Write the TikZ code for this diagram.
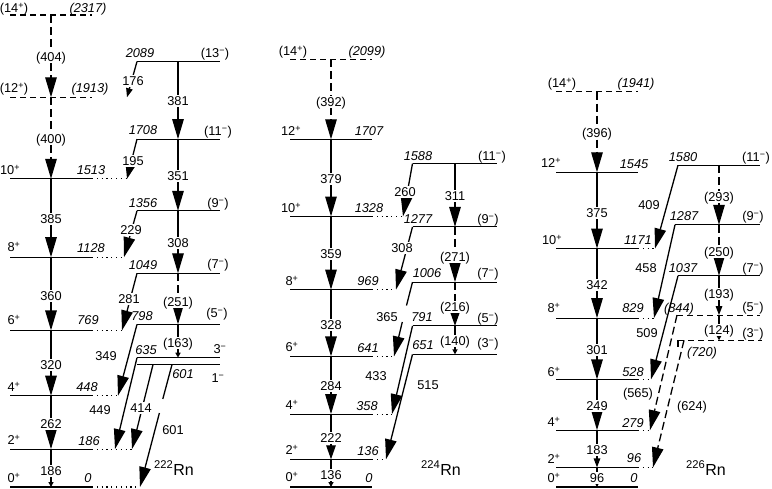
\documentclass[tikz,border=0pt]{standalone}
\usepackage{fontspec}
\setmainfont{Liberation Sans}
\usetikzlibrary{arrows.meta}
\newcommand\spl{\textsuperscript{+}}
\newcommand\smn{\textsuperscript{\char"2212}}
\begin{document}
\begin{tikzpicture}[x=1pt,y=-1pt,
  lvl/.style={line width=1.1pt},
  lvld/.style={line width=1.1pt,dash pattern=on 6pt off 4pt},
  dotx/.style={line width=1.2pt,dash pattern=on 1.2pt off 3.6pt},
  tr/.style={line width=1.3pt},
  trd/.style={line width=1.3pt,dash pattern=on 8pt off 4pt},
  ahbig/.style={-{Triangle[length=20pt,width=11.5pt]}},
  ahmed/.style={-{Triangle[length=14pt,width=9.5pt]}},
  ahsml/.style={-{Triangle[length=9pt,width=6.5pt]}},
  ahtiny/.style={-{Triangle[length=5pt,width=5pt]}},
  lab/.style={font=\fontsize{12.8}{14}\selectfont, inner sep=0.5pt, text height=9pt, text depth=0pt},
  en/.style={lab, font=\fontsize{12.8}{14}\selectfont\itshape},
  onl/.style={lab, fill=white, inner sep=1.2pt},
  nuc/.style={font=\fontsize{16}{18}\selectfont, inner sep=0pt}
]
\useasboundingbox (0,0) rectangle (772,488);

% ================= 222Rn =================
\coordinate (A0) at (51,487);   \coordinate (A2) at (51,449.1);
\coordinate (A4) at (51,395.7); \coordinate (A6) at (51,330.4);
\coordinate (A8) at (51,257.2); \coordinate (A10) at (51,178.8);
\coordinate (A12) at (51,97.3); \coordinate (A14) at (51,15);
\coordinate (B13) at (178,61.5); \coordinate (B11) at (178,139.1);
\coordinate (B9) at (178,210.8); \coordinate (B7) at (178,273.3);
\coordinate (B5) at (178,324.4); \coordinate (B3) at (178,357.7);
\coordinate (B13L) at (137,61.5); \coordinate (B11L) at (137,139.1);
\coordinate (B9L) at (137,210.8); \coordinate (B7L) at (137,273.3);
\coordinate (B5L) at (137,324.4); \coordinate (B3L) at (137,357.7);
\coordinate (B1a) at (153,364.6); \coordinate (B1b) at (172,364.6);
\coordinate (A12t) at (127,97.3); \coordinate (A10t) at (127,178.8);
\coordinate (A8t) at (124,257.2); \coordinate (A6t) at (122,330.4);
\coordinate (A4t) at (118,395.7); \coordinate (A2t) at (115,449.1);
\coordinate (A2u) at (132,449.1); \coordinate (A0t) at (140,487);
\coordinate (G1) at (162.8,399); \coordinate (G2) at (159.4,413);

\draw[lvld] (10,15) -- (92,15);
\draw[lvld] (10,97.3) -- (92,97.3);
\draw[lvl] (10,178.8) -- (92,178.8); \draw[dotx] (92,178.8) -- (A10t);
\draw[lvl] (10,257.2) -- (92,257.2); \draw[dotx] (92,257.2) -- (A8t);
\draw[lvl] (10,330.4) -- (92,330.4); \draw[dotx] (92,330.4) -- (A6t);
\draw[lvl] (10,395.7) -- (92,395.7); \draw[dotx] (92,395.7) -- (A4t);
\draw[lvl] (10,449.1) -- (92,449.1); \draw[dotx] (92,449.1) -- (A2u);
\draw[lvl] (10,487) -- (92,487);     \draw[dotx] (92,487) -- (A0t);
\draw[lvl] (B13L) -- (220,61.5);
\draw[lvl] (B11L) -- (220,139.1);
\draw[lvl] (B9L) -- (220,210.8);
\draw[lvl] (B7L) -- (220,273.3);
\draw[lvl] (B5L) -- (220,324.4);
\draw[lvl] (B3L) -- (220,357.7);
\draw[lvl] (137,364.6) -- (220,364.6);

\draw[trd,ahbig] (A14) -- (A12);
\draw[trd,ahbig] (A12) -- (A10);
\draw[tr,ahbig] (A10) -- (A8);
\draw[tr,ahbig] (A8) -- (A6);
\draw[tr,ahbig] (A6) -- (A4);
\draw[tr,ahbig] (A4) -- (A2);
\draw[tr,ahtiny] (A2) -- (A0);
\draw[tr,ahbig] (B13) -- (B11);
\draw[tr,ahbig] (B11) -- (B9);
\draw[tr,ahbig] (B9) -- (B7);
\draw[trd,ahbig] (B7) -- (B5);
\draw[tr,ahtiny] (B5) -- (B3);
\draw[tr,ahsml] (B13L) -- (A12t);
\draw[tr,ahmed] (B11L) -- (A10t);
\draw[tr,ahbig] (B9L) -- (A8t);
\draw[tr,ahbig] (B7L) -- (A6t);
\draw[tr,ahbig] (B5L) -- (A4t);
\draw[tr,ahbig] (B3L) -- (A2t);
\draw[tr] (B1b) -- (G1);
\draw[tr,ahbig] (G2) -- (A0t);
\draw[tr,ahbig] (B1a) -- (A2u);

\node[lab] (a1) at (14,8) {(14\spl)};
\node[en] (a2) at (88,8) {(2317)};
\node[onl] (a3) at (51,57) {(404)};
\node[lab] (a4) at (14,88) {(12\spl)};
\node[en] (a5) at (90,88) {(1913)};
\node[onl] (a6) at (51,139) {(400)};
\node[lab] (a7) at (10,170) {10\spl};
\node[en] (a8) at (91,170) {1513};
\node[onl] (a9) at (51,219) {385};
\node[lab] (a10) at (14,247) {8\spl};
\node[en] (a11) at (91,248) {1128};
\node[onl] (a12) at (51,296) {360};
\node[lab] (a13) at (14,320) {6\spl};
\node[en] (a14) at (88,320) {769};
\node[onl] (a15) at (51,365) {320};
\node[lab] (a16) at (14,387) {4\spl};
\node[en] (a17) at (87,387) {448};
\node[onl] (a18) at (51,424) {262};
\node[lab] (a19) at (14,440) {2\spl};
\node[en] (a20) at (89,441) {186};
\node[onl] (a21) at (51,471) {186};
\node[lab] (a22) at (14,478) {0\spl};
\node[en] (a23) at (88,478) {0};

\node[en] (b1) at (140,53) {2089};
\node[lab] (b2) at (215,53) {(13\smn)};
\node[onl] (b3) at (133,81) {176};
\node[onl] (b4) at (178,101) {381};
\node[en] (b5) at (143,130) {1708};
\node[lab] (b6) at (218,131) {(11\smn)};
\node[onl] (b7) at (133,161) {195};
\node[onl] (b8) at (178,176) {351};
\node[en] (b9) at (143,203) {1356};
\node[lab] (b10) at (218,203) {(9\smn)};
\node[onl] (b11) at (131,230) {229};
\node[onl] (b12) at (178,243) {308};
\node[en] (b13) at (143,265) {1049};
\node[lab] (b14) at (218,264) {(7\smn)};
\node[onl] (b15) at (129,299) {281};
\node[onl] (b16) at (178,302) {(251)};
\node[en] (b17) at (142,316) {798};
\node[lab] (b18) at (217,313) {(5\smn)};
\node[lab] (b19) at (106,356) {349};
\node[en] (b20) at (146,350) {635};
\node[onl] (b21) at (178,343) {(163)};
\node[lab] (b22) at (220,349) {3\smn};
\node[en] (b23) at (183,374) {601};
\node[lab] (b24) at (218,378) {1\smn};
\node[lab] (b25) at (100,410) {449};
\node[onl] (b26) at (141,408) {414};
\node[lab] (b27) at (173,430) {601};
\node[nuc] (nuc222) at (174,468) {\textsuperscript{222}Rn};

% ================= 224Rn =================
\coordinate (C0) at (331,487);   \coordinate (C2) at (331,459.3);
\coordinate (C4) at (331,414.1); \coordinate (C6) at (331,356.4);
\coordinate (C8) at (331,289.6); \coordinate (C10) at (331,216.5);
\coordinate (C12) at (331,139.3); \coordinate (C14) at (331,59.4);
\coordinate (D11) at (455,163.5); \coordinate (D9) at (455,226.9);
\coordinate (D7) at (455,282.1);  \coordinate (D5) at (455,325.9);
\coordinate (D3) at (455,354.4);
\coordinate (D11L) at (412.5,163.5); \coordinate (D9L) at (412.5,226.9);
\coordinate (D7L) at (412.5,282.1);  \coordinate (D5L) at (412.5,325.9);
\coordinate (D3L) at (412.5,354.4);
\coordinate (C10t) at (403,216.5); \coordinate (C8t) at (396,289.6);
\coordinate (C6t) at (394,356.4);  \coordinate (C4t) at (392,414.1);
\coordinate (C2t) at (386,459.3);
\coordinate (G3) at (406.5,305.5); \coordinate (G4) at (402.3,322);

\draw[lvld] (290,59.4) -- (372,59.4);
\draw[lvl] (290,139.3) -- (372,139.3);
\draw[lvl] (290,216.5) -- (372,216.5); \draw[dotx] (372,216.5) -- (C10t);
\draw[lvl] (290,289.6) -- (372,289.6); \draw[dotx] (372,289.6) -- (C8t);
\draw[lvl] (290,356.4) -- (372,356.4); \draw[dotx] (372,356.4) -- (C6t);
\draw[lvl] (290,414.1) -- (372,414.1); \draw[dotx] (372,414.1) -- (C4t);
\draw[lvl] (290,459.3) -- (372,459.3); \draw[dotx] (372,459.3) -- (C2t);
\draw[lvl] (290,487) -- (372,487);
\draw[lvl] (D11L) -- (497,163.5);
\draw[lvl] (D9L) -- (497,226.9);
\draw[lvl] (D7L) -- (497,282.1);
\draw[lvl] (D5L) -- (497,325.9);
\draw[lvl] (D3L) -- (497,354.4);

\draw[trd,ahbig] (C14) -- (C12);
\draw[tr,ahbig] (C12) -- (C10);
\draw[tr,ahbig] (C10) -- (C8);
\draw[tr,ahbig] (C8) -- (C6);
\draw[tr,ahbig] (C6) -- (C4);
\draw[tr,ahmed] (C4) -- (C2);
\draw[tr,ahtiny] (C2) -- (C0);
\draw[tr,ahbig] (D11) -- (D9);
\draw[trd,ahbig] (D9) -- (D7);
\draw[trd,ahmed] (D7) -- (D5);
\draw[tr,ahtiny] (D5) -- (D3);
\draw[tr,ahbig] (D11L) -- (C10t);
\draw[tr,ahbig] (D9L) -- (C8t);
\draw[tr] (D7L) -- (G3);
\draw[tr,ahbig] (G4) -- (C6t);
\draw[tr,ahbig] (D5L) -- (C4t);
\draw[tr,ahbig] (D3L) -- (C2t);

\node[lab] (c1) at (293,51) {(14\spl)};
\node[en] (c2) at (367,51) {(2099)};
\node[onl] (c3) at (331,102) {(392)};
\node[lab] (c4) at (291,131) {12\spl};
\node[en] (c5) at (369,131) {1707};
\node[onl] (c6) at (331,179) {379};
\node[lab] (c7) at (291,208) {10\spl};
\node[en] (c8) at (369,208) {1328};
\node[onl] (c9) at (331,254) {359};
\node[lab] (c10) at (292,281) {8\spl};
\node[en] (c11) at (368,281) {969};
\node[onl] (c12) at (331,325) {328};
\node[lab] (c13) at (292,347) {6\spl};
\node[en] (c14) at (368,348) {641};
\node[onl] (c15) at (331,386) {284};
\node[lab] (c16) at (292,405) {4\spl};
\node[en] (c17) at (367,406) {358};
\node[onl] (c18) at (331,438) {222};
\node[lab] (c19) at (292,450) {2\spl};
\node[en] (c20) at (368,451) {136};
\node[onl] (c21) at (331,475) {136};
\node[lab] (c22) at (292,477) {0\spl};
\node[en] (c23) at (369,478) {0};

\node[en] (d1) at (418,156) {1588};
\node[lab] (d2) at (492,156) {(11\smn)};
\node[onl] (d3) at (405,192) {260};
\node[onl] (d4) at (455,196) {311};
\node[en] (d5) at (418,219) {1277};
\node[lab] (d6) at (488,219) {(9\smn)};
\node[onl] (d7) at (402,248) {308};
\node[onl] (d8) at (455,257) {(271)};
\node[en] (d9) at (427,273) {1006};
\node[lab] (d10) at (488,273) {(7\smn)};
\node[lab] (d11) at (387,317) {365};
\node[onl] (d12) at (455,307) {(216)};
\node[en] (d13) at (422,317) {791};
\node[lab] (d14) at (488,318) {(5\smn)};
\node[onl] (d15) at (455,341) {(140)};
\node[en] (d16) at (423,345) {651};
\node[lab] (d17) at (488,343) {(3\smn)};
\node[lab] (d18) at (376,376) {433};
\node[lab] (d19) at (428,385) {515};
\node[nuc] (nuc224) at (441,468) {\textsuperscript{224}Rn};

% ================= 226Rn =================
\coordinate (E0) at (597,487);   \coordinate (E2) at (597,467.4);
\coordinate (E4) at (597,430.2); \coordinate (E6) at (597,379.4);
\coordinate (E8) at (597,318.1); \coordinate (E10) at (597,248.5);
\coordinate (E12) at (597,172.3); \coordinate (E14) at (597,91.6);
\coordinate (F11) at (719,165.2); \coordinate (F9) at (719,224.8);
\coordinate (F7) at (719,275.8);  \coordinate (F5) at (719,315.1);
\coordinate (F3) at (719,340.3);
\coordinate (F11L) at (678,165.2); \coordinate (F9L) at (675,224.8);
\coordinate (F7L) at (678,275.8);  \coordinate (F5L) at (677,315.1);
\coordinate (F3L) at (684,340.3);  \coordinate (F3K) at (678,340.3);
\coordinate (F3T) at (678,347);
\coordinate (E10t) at (655,248.5); \coordinate (E8t) at (654,318.1);
\coordinate (E6t) at (651,379.4);  \coordinate (E4t) at (650,430.2);
\coordinate (E2t) at (653,467.4);

\draw[lvld] (556,91.6) -- (638,91.6);
\draw[lvl] (556,172.3) -- (638,172.3);
\draw[lvl] (556,248.5) -- (638,248.5); \draw[dotx] (638,248.5) -- (E10t);
\draw[lvl] (556,318.1) -- (638,318.1); \draw[dotx] (638,318.1) -- (E8t);
\draw[lvl] (556,379.4) -- (638,379.4); \draw[dotx] (638,379.4) -- (E6t);
\draw[lvl] (556,430.2) -- (638,430.2); \draw[dotx] (638,430.2) -- (E4t);
\draw[lvl] (556,467.4) -- (638,467.4); \draw[dotx] (638,467.4) -- (E2t);
\draw[lvl] (556,487) -- (638,487);
\draw[lvl] (F11L) -- (760,165.2);
\draw[lvl] (F9L) -- (760,224.8);
\draw[lvl] (F7L) -- (760,275.8);
\draw[lvld] (F5L) -- (760,315.1);
\draw[lvld] (F3K) -- (762,340.3);
\draw[lvl] (F3K) -- (F3T);

\draw[trd,ahbig] (E14) -- (E12);
\draw[tr,ahbig] (E12) -- (E10);
\draw[tr,ahbig] (E10) -- (E8);
\draw[tr,ahbig] (E8) -- (E6);
\draw[tr,ahbig] (E6) -- (E4);
\draw[tr,ahsml] (E4) -- (E2);
\draw[tr,ahtiny] (E2) -- (E0);
\draw[trd,ahbig] (F11) -- (F9);
\draw[trd,ahbig] (F9) -- (F7);
\draw[tr,ahsml] (F7) -- (F5);
\draw[tr,ahtiny] (F5) -- (F3);
\draw[tr,ahbig] (F11L) -- (E10t);
\draw[tr,ahbig] (F9L) -- (E8t);
\draw[tr,ahbig] (F7L) -- (E6t);
\draw[trd,ahbig] (F5L) -- (E4t);
\draw[trd,ahbig] (F3L) -- (E2t);

\node[lab] (e1) at (562,83) {(14\spl)};
\node[en] (e2) at (636,83) {(1941)};
\node[onl] (e3) at (597,133) {(396)};
\node[lab] (e4) at (551,163) {12\spl};
\node[en] (e5) at (634,164) {1545};
\node[onl] (e6) at (597,213) {375};
\node[lab] (e7) at (552,240) {10\spl};
\node[en] (e8) at (638,240) {1171};
\node[onl] (e9) at (597,285) {342};
\node[lab] (e10) at (554,308) {8\spl};
\node[en] (e11) at (633,308) {829};
\node[onl] (e12) at (597,350) {301};
\node[lab] (e13) at (554,372) {6\spl};
\node[en] (e14) at (633,372) {528};
\node[onl] (e15) at (597,406) {249};
\node[lab] (e16) at (554,422) {4\spl};
\node[en] (e17) at (633,423) {279};
\node[onl] (e18) at (597,450) {183};
\node[lab] (e19) at (554,459) {2\spl};
\node[en] (e20) at (634,458) {96};
\node[onl] (e21) at (597,478) {96};
\node[lab] (e22) at (554,478) {0\spl};
\node[en] (e23) at (634,478) {0};

\node[en] (f1) at (683,157) {1580};
\node[lab] (f2) at (756,157) {(11\smn)};
\node[lab] (f3) at (649,205) {409};
\node[onl] (f4) at (719,197) {(293)};
\node[en] (f5) at (684,216) {1287};
\node[lab] (f6) at (753,216) {(9\smn)};
\node[lab] (f7) at (646,268) {458};
\node[onl] (f8) at (719,252) {(250)};
\node[en] (f9) at (683,268) {1037};
\node[lab] (f10) at (753,268) {(7\smn)};
\node[onl] (f11) at (719,294) {(193)};
\node[lab] (f12) at (647,333) {509};
\node[en] (f13) at (679,308) {(844)};
\node[lab] (f14) at (753,307) {(5\smn)};
\node[onl] (f15) at (719,330) {(124)};
\node[lab] (f16) at (753,333) {(3\smn)};
\node[en] (f17) at (702,352) {(720)};
\node[lab] (f18) at (638,393) {(565)};
\node[lab] (f19) at (692,406) {(624)};
\node[nuc] (nuc226) at (706,468) {\textsuperscript{226}Rn};
\end{tikzpicture}
\end{document}
